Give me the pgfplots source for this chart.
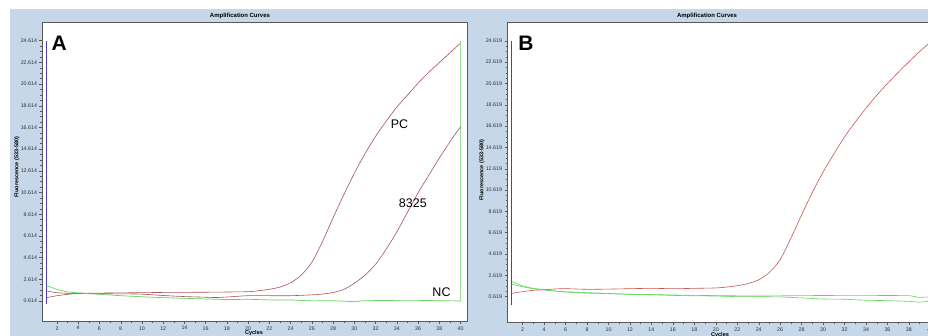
\documentclass[border=0pt]{standalone}
\usepackage{pgfplots}
\pgfplotsset{compat=1.18}
\usepackage{fontspec}
\setmainfont{Liberation Sans}
\definecolor{bgblue}{RGB}{197,215,232}
\definecolor{pcred}{RGB}{168,84,92}
\definecolor{bred}{RGB}{200,85,85}
\definecolor{ncgreen}{RGB}{100,212,90}
\definecolor{vblue}{RGB}{70,60,210}
\definecolor{axgray}{RGB}{90,90,90}
\pgfplotsset{
  rtstyle/.style={
    scale only axis,
    anchor=south west,
    axis background/.style={fill=white},
    axis line style={axgray, line width=0.8pt},
    tick style={axgray, line width=0.4pt},
    tick align=outside,
    major tick length=2.5pt,
    minor tick length=1.5pt,
    xtick={2,4,...,40},
    minor x tick num=1,
    minor y tick num=3,
    xtick pos=bottom, ytick pos=left,
    tick label style={font=\fontsize{5.3}{6}\selectfont, text=black!80},
    /pgf/number format/assume math mode=true,
    xticklabel style={yshift=1pt},
    yticklabel style={xshift=1pt},
    clip=true,
  }
}
\begin{document}
\begin{tikzpicture}
\path[use as bounding box] (0,0) rectangle (928pt,336pt);
\fill[bgblue] (10pt,0) rectangle (940pt,326.5pt);
% ---------- Panel A ----------
\begin{axis}[rtstyle,
  at={(42pt,14.7pt)}, width=425pt, height=298.6pt,
  xmin=0.59, xmax=40.6, ymin=-1.26, ymax=26.27,
  ytick={0.614,2.614,...,24.614},
  yticklabels={0.614,2.614,4.614,6.614,8.614,10.614,12.614,14.614,16.614,18.614,20.614,22.614,24.614},
]
\addplot[vblue, line width=1pt] coordinates {(1,0.34) (1,24.6)};
% PC
\addplot[pcred, line width=0.6pt, smooth] coordinates {
(1,1.54) (2,1.38) (3,1.32) (4,1.32) (6,1.34) (8,1.36) (10,1.38) (12,1.40) (14,1.41) (16,1.42) (18,1.44) (20,1.47)
(21,1.56) (22,1.69) (23,1.9) (24,2.3) (25,3.0) (26,4.2) (27,6.1) (28,8.3) (29,10.4) (30,12.4)
(31,14.2) (32,15.8) (33,17.2) (34,18.5) (35,19.6) (36,20.7) (37,21.7) (38,22.6) (39,23.5) (40,24.4)};
% 8325
\addplot[pcred, line width=0.6pt, smooth] coordinates {
(1,0.92) (2,1.1) (3,1.22) (4,1.3) (6,1.28) (8,1.27) (10,1.24) (12,1.12) (14,1.02) (16,0.96) (17,0.93) (18,0.98) (20,1.1)
(22,1.1) (24,1.1) (26,1.18) (27,1.25) (28,1.4) (29,1.68) (30,2.25) (31,3.0) (32,4.0) (33,5.4)
(34,7.0) (35,8.8) (36,10.6) (37,12.2) (38,13.8) (39,15.3) (40,16.7)};
% NC
\addplot[ncgreen, line width=0.7pt] coordinates {
(1,2.02) (2,1.69) (3,1.44) (4,1.36) (5,1.28) (6,1.23) (8,1.1) (10,1.0) (12,0.92) (14,0.86) (16,0.8) (18,0.74)
(20,0.77) (22,0.71) (24,0.71) (26,0.62) (28,0.64) (30,0.55) (31,0.64) (32,0.65) (34,0.67) (36,0.67) (38,0.64) (40,0.61)
(40,24.6)};
\node[font=\fontsize{21}{24}\selectfont\bfseries, anchor=center] at (axis cs:2.2,24.35) {A};
\node[font=\fontsize{12.5}{14}\selectfont] at (axis cs:34.25,16.9) {PC};
\node[font=\fontsize{12.5}{14}\selectfont] at (axis cs:35.5,9.6) {8325};
\node[font=\fontsize{12.5}{14}\selectfont] at (axis cs:38.2,1.38) {NC};
\end{axis}
% ---------- Panel B ----------
\begin{axis}[rtstyle,
  at={(507pt,13.3pt)}, width=440pt, height=300pt,
  xmin=0.54, xmax=41.55, ymin=-1.82, ymax=26.31,
  ytick={0.619,2.619,...,24.619},
  yticklabels={0.619,2.619,4.619,6.619,8.619,10.619,12.619,14.619,16.619,18.619,20.619,22.619,24.619},
]
\addplot[vblue, line width=1pt] coordinates {(1,-0.16) (1,24.6)};
\addplot[bred, line width=0.6pt, smooth] coordinates {
(1,0.94) (2,1.09) (3,1.22) (4,1.27) (5,1.34) (6,1.37) (8,1.31) (10,1.33) (12,1.37) (14,1.4) (16,1.37) (18,1.4) (20,1.44)
(21,1.52) (22,1.65) (23,1.85) (24,2.2) (25,2.9) (26,4.1) (27,6.1) (28,8.3) (29,10.4) (30,12.3)
(31,14.0) (32,15.6) (33,17.0) (34,18.3) (35,19.5) (36,20.6) (37,21.65) (38,22.65) (39,23.6) (40,24.5)};
\addplot[ncgreen, line width=0.6pt] coordinates {
(1,2.03) (2,1.62) (3,1.4) (4,1.27) (5,1.15) (6,1.08) (8,1.0) (10,0.92) (12,0.85) (14,0.82) (16,0.78) (18,0.74)
(20,0.72) (22,0.7) (24,0.68) (26,0.7) (28,0.72) (30,0.73) (32,0.74) (34,0.74) (36,0.73) (38,0.72) (39,0.55) (40,0.6)};
\addplot[ncgreen, line width=0.6pt] coordinates {
(1,1.78) (2,1.55) (3,1.35) (4,1.25) (6,1.05) (8,0.95) (10,0.9) (12,0.84) (14,0.8) (16,0.74) (18,0.7)
(20,0.68) (22,0.62) (24,0.62) (26,0.6) (28,0.5) (30,0.4) (32,0.38) (34,0.28) (36,0.25) (38,0.18) (39,0.1) (40,0.2)};
\node[font=\fontsize{21}{24}\selectfont\bfseries, anchor=center] at (axis cs:2.3,24.35) {B};
\end{axis}
% ---------- titles and labels ----------
\node[font=\fontsize{6}{7}\selectfont\bfseries] at (240pt,320pt) {Amplification Curves};
\node[font=\fontsize{6}{7}\selectfont\bfseries] at (707pt,320pt) {Amplification Curves};
\node[font=\fontsize{5.5}{6}\selectfont\bfseries, rotate=90] at (17pt,169pt) {Fluorescence (533-580)};
\node[font=\fontsize{5.5}{6}\selectfont\bfseries, rotate=90] at (482pt,166pt) {Fluorescence (533-580)};
\node[font=\fontsize{5.5}{6}\selectfont\bfseries] at (254pt,2.5pt) {Cycles};
\node[font=\fontsize{5.5}{6}\selectfont\bfseries] at (720pt,1pt) {Cycles};
\end{tikzpicture}
\end{document}
